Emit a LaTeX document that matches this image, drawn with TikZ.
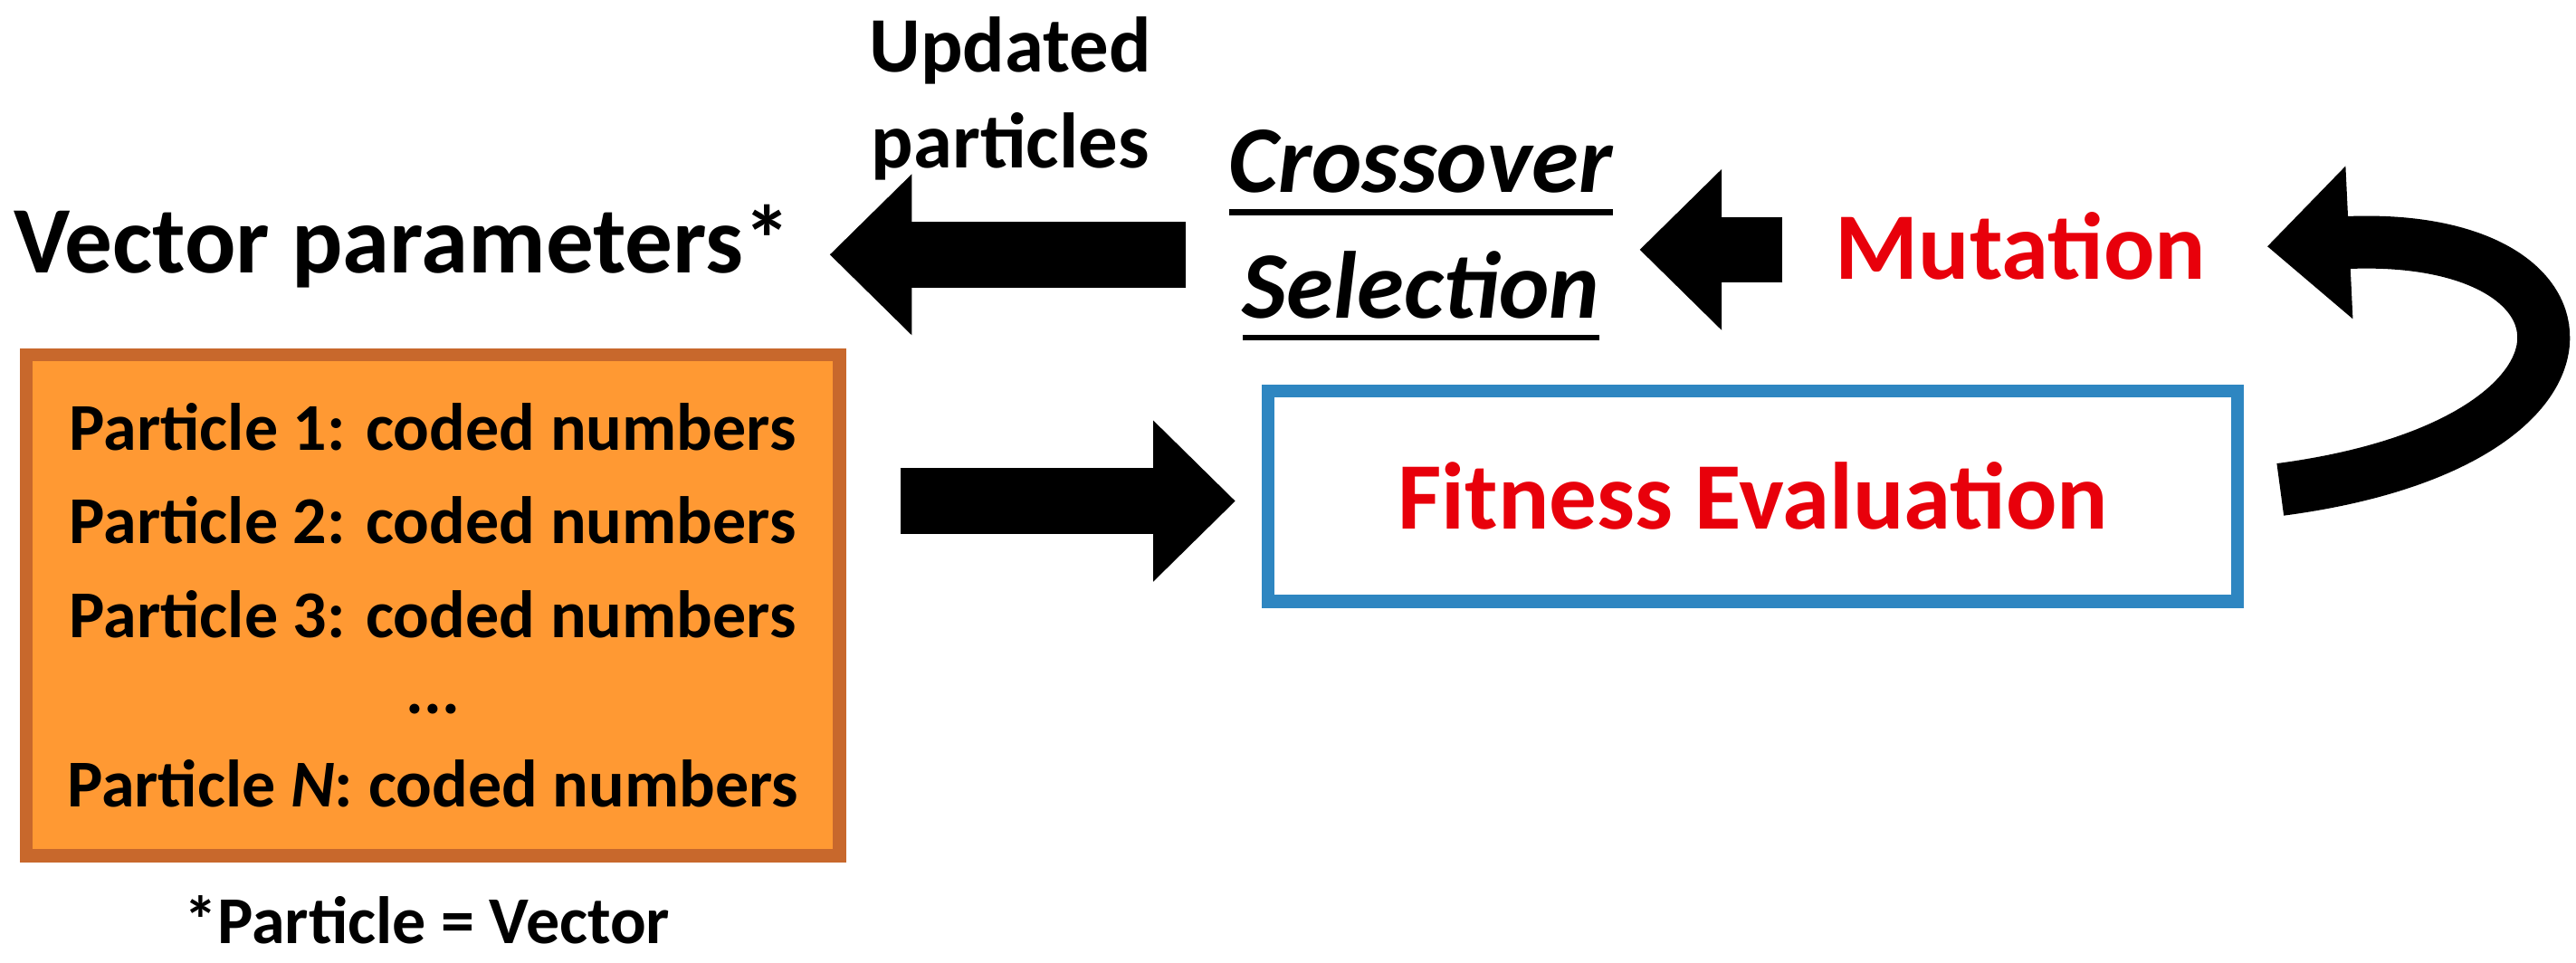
\documentclass[tikz,border=0pt]{standalone}
\usepackage{fontspec}
\setmainfont{Carlito}
\usetikzlibrary{arrows.meta}
\definecolor{org}{HTML}{FF9933}
\definecolor{orgb}{HTML}{C8682C}
\definecolor{blu}{HTML}{2E86C1}
\definecolor{rd}{HTML}{E8000B}
\newcommand{\ul}[1]{\tikz[baseline=(u.base)]{\node[inner sep=0,outer sep=0] (u) {#1};\draw[line width=0.35mm] ([yshift=-1.2mm]u.base west) -- ([yshift=-1.2mm]u.base east);}}
\tikzset{
 big/.style={font=\bfseries\fontsize{16.5}{19}\selectfont},
 mid/.style={font=\bfseries\fontsize{11.6}{14.2}\selectfont},
 blk/.style={line width=4mm,-{Triangle[length=5mm,width=9.5mm]}},
}
\begin{document}
\begin{tikzpicture}[x=0.1mm,y=-0.1mm]
\useasboundingbox (0,0) rectangle (1568,586);
\node[big] (vp) at (245,150) {Vector parameters*};
\node[draw=orgb,fill=org,line width=0.8mm,minimum width=49.5mm,minimum height=30.5mm,anchor=north west,inner sep=0] (box) at (12,212) {};
\node[mid,align=center] (pl) at (box.center) {Particle 1: coded numbers\\[2pt]Particle 2: coded numbers\\[2pt]Particle 3: coded numbers\\[-1pt]...\\[2pt]Particle \textit{N}: coded numbers};
\node[mid] (note) at (260,560) {*Particle = Vector};
\node[draw=blu,line width=0.8mm,minimum width=59mm,minimum height=12.8mm,text=rd,big] (fe) at (1067,302) {Fitness Evaluation};
\node[big,text=rd] (mu) at (1230,150) {Mutation};
\node[big] (cr) at (865,105) {\ul{\textit{Crossover}}};
\node[big] (se) at (865,180) {\ul{\textit{Selection}}};
\node[align=center,font=\bfseries\fontsize{13.6}{16.5}\selectfont] (up) at (615,60) {Updated\\particles};
\coordinate (a1) at (548,305); \coordinate (a2) at (752,305);
\draw[blk] (a1) -- (a2);
\coordinate (b1) at (1085,152); \coordinate (b2) at (998,152);
\draw[blk] (b1) -- (b2);
\coordinate (c1) at (722,155); \coordinate (c2) at (505,155);
\draw[blk] (c1) -- (c2);
\coordinate (d1) at (1388,298); \coordinate (d2) at (1380,150);
\draw[line width=3.2mm,-{Triangle[length=5mm,width=9mm]}] (d1) .. controls (1600,270) and (1590,140) .. (d2);
\end{tikzpicture}
\end{document}
